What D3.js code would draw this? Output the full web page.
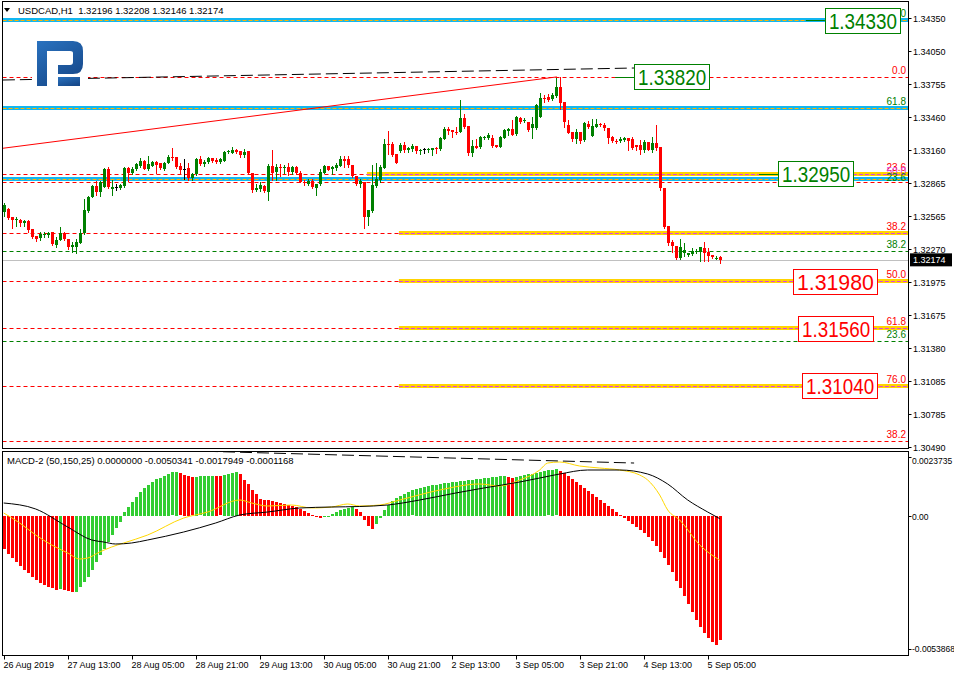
<!DOCTYPE html>
<html>
<head>
<meta charset="utf-8">
<script src="https://cdn.jsdelivr.net/npm/d3@7"></script>
<style>
  body { margin: 0; background: #fff; }
  text { font-family: "Liberation Sans", Arial, sans-serif; }
</style>
</head>
<body>
<div id="chart"></div>
<script>
// USDCAD H1 candles, 26 Aug - 5 Sep 2019
var opens = [
  1.32604,1.32631,1.32559,1.32532,1.32532,1.32505,1.32523,1.32451,1.32388,1.32370,
  1.32397,1.32397,1.32424,1.32307,1.32352,1.32415,1.32361,1.32289,1.32289,1.32325,
  1.32415,1.32613,1.32739,1.32838,1.32784,1.32829,1.32991,1.32811,1.32829,1.32820,
  1.32838,1.33000,1.32955,1.32991,1.33018,1.33063,1.32991,1.33018,1.33054,1.33045,
  1.32991,1.33045,1.33099,1.33099,1.33018,1.32991,1.33000,1.32910,1.32946,1.33081,
  1.33036,1.33054,1.33090,1.33072,1.33054,1.33063,1.33144,1.33135,1.33162,1.33153,
  1.33117,1.33153,1.32955,1.32802,1.32811,1.32838,1.32784,1.33018,1.32964,1.33009,
  1.33000,1.33009,1.32964,1.33009,1.32955,1.32874,1.32856,1.32883,1.32820,1.32856,
  1.32955,1.33018,1.32991,1.33000,1.33018,1.33081,1.33081,1.33027,1.32928,1.32856,
  1.32874,1.32559,1.32613,1.32838,1.32892,1.33000,1.33216,1.33216,1.33126,1.33153,
  1.33207,1.33162,1.33171,1.33198,1.33153,1.33171,1.33162,1.33162,1.33180,1.33171,
  1.33261,1.33351,1.33342,1.33324,1.33324,1.33450,1.33378,1.33135,1.33198,1.33189,
  1.33270,1.33270,1.33270,1.33207,1.33189,1.33270,1.33333,1.33351,1.33306,1.33450,
  1.33423,1.33414,1.33360,1.33360,1.33459,1.33630,1.33639,1.33621,1.33648,1.33729,
  1.33594,1.33387,1.33324,1.33261,1.33324,1.33252,1.33396,1.33288,1.33369,1.33396,
  1.33387,1.33360,1.33279,1.33243,1.33243,1.33252,1.33270,1.33261,1.33207,1.33207,
  1.33162,1.33234,1.33162,1.33225,1.33189,1.32820,1.32478,1.32334,1.32298,1.32190,
  1.32235,1.32217,1.32226,1.32244,1.32244,1.32280,1.32244,1.32217,1.32185,1.32196
];
var highs = [
  1.32685,1.32640,1.32559,1.32559,1.32541,1.32532,1.32532,1.32451,1.32388,1.32424,
  1.32424,1.32424,1.32424,1.32379,1.32469,1.32424,1.32361,1.32334,1.32361,1.32451,
  1.32721,1.32748,1.32847,1.32883,1.32883,1.33000,1.33009,1.32892,1.32856,1.32856,
  1.33009,1.33009,1.33009,1.33045,1.33090,1.33072,1.33108,1.33063,1.33063,1.33045,
  1.33054,1.33117,1.33180,1.33099,1.33045,1.33081,1.33045,1.32955,1.33090,1.33108,
  1.33072,1.33099,1.33090,1.33090,1.33090,1.33153,1.33162,1.33189,1.33171,1.33153,
  1.33171,1.33153,1.32955,1.32856,1.32874,1.32847,1.33036,1.33162,1.33036,1.33036,
  1.33027,1.33045,1.33018,1.33018,1.32973,1.32892,1.32901,1.32901,1.32856,1.32991,
  1.33027,1.33018,1.33018,1.33045,1.33108,1.33108,1.33108,1.33027,1.32928,1.32901,
  1.32874,1.32622,1.33027,1.33045,1.33027,1.33261,1.33333,1.33234,1.33126,1.33225,
  1.33234,1.33189,1.33216,1.33198,1.33171,1.33180,1.33180,1.33180,1.33189,1.33279,
  1.33369,1.33369,1.33342,1.33369,1.33612,1.33486,1.33378,1.33252,1.33261,1.33288,
  1.33288,1.33315,1.33297,1.33207,1.33288,1.33351,1.33360,1.33432,1.33468,1.33459,
  1.33450,1.33414,1.33459,1.33576,1.33675,1.33657,1.33666,1.33675,1.33810,1.33819,
  1.33594,1.33432,1.33324,1.33351,1.33324,1.33414,1.33423,1.33441,1.33441,1.33405,
  1.33405,1.33360,1.33288,1.33261,1.33279,1.33279,1.33270,1.33279,1.33207,1.33252,
  1.33252,1.33234,1.33279,1.33387,1.33189,1.32820,1.32478,1.32352,1.32298,1.32361,
  1.32325,1.32235,1.32280,1.32271,1.32289,1.32334,1.32280,1.32217,1.32208,1.32208
];
var lows = [
  1.32568,1.32541,1.32460,1.32478,1.32478,1.32478,1.32424,1.32370,1.32343,1.32352,
  1.32379,1.32379,1.32307,1.32289,1.32352,1.32352,1.32271,1.32244,1.32235,1.32325,
  1.32406,1.32604,1.32739,1.32757,1.32748,1.32829,1.32820,1.32757,1.32802,1.32811,
  1.32829,1.32883,1.32946,1.32982,1.33009,1.32991,1.32982,1.33018,1.32955,1.32991,
  1.32982,1.33045,1.33072,1.33000,1.32955,1.32901,1.32892,1.32892,1.32937,1.33027,
  1.33018,1.33045,1.33054,1.33045,1.33045,1.33063,1.33135,1.33135,1.33135,1.33099,
  1.33099,1.32946,1.32784,1.32793,1.32793,1.32784,1.32712,1.32892,1.32892,1.32928,
  1.32955,1.32937,1.32946,1.32946,1.32874,1.32847,1.32847,1.32820,1.32757,1.32847,
  1.32955,1.32982,1.32946,1.32982,1.33018,1.33009,1.33009,1.32919,1.32847,1.32829,
  1.32460,1.32487,1.32604,1.32829,1.32874,1.33000,1.33126,1.33108,1.33045,1.33144,
  1.33144,1.33144,1.33153,1.33135,1.33126,1.33135,1.33144,1.33117,1.33135,1.33162,
  1.33261,1.33306,1.33279,1.33306,1.33324,1.33360,1.33117,1.33108,1.33180,1.33180,
  1.33261,1.33261,1.33189,1.33189,1.33189,1.33270,1.33297,1.33297,1.33297,1.33405,
  1.33414,1.33333,1.33270,1.33351,1.33459,1.33594,1.33603,1.33612,1.33639,1.33531,
  1.33369,1.33315,1.33243,1.33225,1.33225,1.33243,1.33360,1.33288,1.33369,1.33378,
  1.33342,1.33225,1.33234,1.33225,1.33234,1.33243,1.33162,1.33171,1.33162,1.33126,
  1.33144,1.33162,1.33144,1.33162,1.32802,1.32460,1.32307,1.32244,1.32181,1.32181,
  1.32208,1.32208,1.32217,1.32235,1.32163,1.32163,1.32163,1.32190,1.32181,1.32146
];
var closes = [
  1.32667,1.32550,1.32532,1.32541,1.32505,1.32523,1.32442,1.32379,1.32361,1.32406,
  1.32406,1.32415,1.32316,1.32352,1.32415,1.32361,1.32289,1.32307,1.32334,1.32415,
  1.32622,1.32739,1.32838,1.32784,1.32874,1.32991,1.32829,1.32829,1.32829,1.32847,
  1.33000,1.32955,1.32991,1.33036,1.33063,1.32991,1.33036,1.33054,1.33027,1.33000,
  1.33045,1.33099,1.33090,1.33009,1.32982,1.32991,1.32910,1.32946,1.33081,1.33036,
  1.33054,1.33090,1.33063,1.33054,1.33081,1.33144,1.33153,1.33162,1.33144,1.33117,
  1.33144,1.32955,1.32802,1.32820,1.32847,1.32793,1.33018,1.32955,1.33009,1.33000,
  1.33009,1.32964,1.33009,1.32955,1.32874,1.32865,1.32883,1.32829,1.32856,1.32964,
  1.33018,1.32982,1.33009,1.33027,1.33081,1.33063,1.33027,1.32928,1.32856,1.32883,
  1.32559,1.32622,1.32847,1.32901,1.33009,1.33216,1.33207,1.33117,1.33045,1.33207,
  1.33162,1.33180,1.33198,1.33153,1.33162,1.33171,1.33171,1.33180,1.33171,1.33270,
  1.33351,1.33333,1.33324,1.33315,1.33450,1.33369,1.33135,1.33198,1.33180,1.33279,
  1.33279,1.33297,1.33198,1.33189,1.33279,1.33342,1.33351,1.33297,1.33459,1.33414,
  1.33432,1.33342,1.33396,1.33567,1.33630,1.33621,1.33612,1.33657,1.33729,1.33585,
  1.33414,1.33315,1.33261,1.33324,1.33243,1.33405,1.33369,1.33378,1.33396,1.33387,
  1.33360,1.33270,1.33243,1.33234,1.33261,1.33270,1.33243,1.33180,1.33189,1.33162,
  1.33234,1.33162,1.33225,1.33180,1.32820,1.32469,1.32325,1.32298,1.32190,1.32289,
  1.32262,1.32235,1.32253,1.32253,1.32289,1.32235,1.32208,1.32199,1.32190,1.32174
];

// MACD-2 histogram per bar
var histValues = [
  -0.00135,-0.00155,-0.00171,-0.00187,-0.00203,-0.00219,-0.00231,-0.00248,-0.00260,-0.00272,
  -0.00280,-0.00288,-0.00292,-0.00298,-0.00296,-0.00300,-0.00304,-0.00308,-0.00306,-0.00287,
  -0.00268,-0.00248,-0.00219,-0.00187,-0.00159,-0.00135,-0.00106,-0.00078,-0.00050,-0.00025,
  0.00015,0.00035,0.00055,0.00076,0.00096,0.00112,0.00124,0.00136,0.00148,0.00152,
  0.00160,0.00168,0.00175,0.00177,0.00171,0.00164,0.00160,0.00155,0.00158,0.00159,
  0.00160,0.00161,0.00162,0.00160,0.00159,0.00165,0.00170,0.00174,0.00176,0.00169,
  0.00144,0.00128,0.00104,0.00088,0.00067,0.00065,0.00064,0.00059,0.00055,0.00051,
  0.00047,0.00043,0.00039,0.00035,0.00027,0.00019,0.00011,0.00003,-0.00005,-0.00007,
  -0.00005,-0.00001,0.00007,0.00015,0.00023,0.00027,0.00031,0.00035,0.00027,0.00015,
  -0.00017,-0.00042,-0.00054,-0.00034,-0.00009,0.00023,0.00043,0.00059,0.00072,0.00080,
  0.00088,0.00096,0.00102,0.00108,0.00112,0.00116,0.00120,0.00124,0.00126,0.00128,
  0.00132,0.00134,0.00136,0.00138,0.00140,0.00142,0.00144,0.00146,0.00148,0.00150,
  0.00152,0.00154,0.00156,0.00158,0.00160,0.00162,0.00156,0.00152,0.00157,0.00161,
  0.00165,0.00168,0.00169,0.00172,0.00177,0.00181,0.00183,0.00185,0.00187,0.00181,
  0.00173,0.00160,0.00148,0.00136,0.00124,0.00112,0.00100,0.00088,0.00076,0.00063,
  0.00051,0.00039,0.00027,0.00015,0.00003,-0.00009,-0.00021,-0.00034,-0.00046,-0.00058,
  -0.00070,-0.00086,-0.00102,-0.00122,-0.00147,-0.00171,-0.00199,-0.00228,-0.00261,-0.00293,
  -0.00325,-0.00357,-0.00390,-0.00422,-0.00450,-0.00474,-0.00495,-0.00511,-0.00523,-0.00503
];
// colour runs of the histogram: [colour, number of bars]
var histColorRuns = [["r",14],["g",1],["r",3],["g",26],["r",4],["g",5],["r",2],["g",4],
  ["r",21],["g",8],["r",5],["g",33],["r",2],["g",11],["r",41]];

// MACD lines, read at [bar, value]
var macdBlack = [[0,0.000514],[8,0.000272],[16,-0.000456],[22,-0.000981],[25,-0.001062],[28,-0.001143],
  [32,-0.001102],[36,-0.000981],[45,-0.000658],[53,-0.000294],[59,0.000029],[66,0.000150],[74,0.000312],
  [82,0.000352],[89,0.000373],[96,0.000433],[104,0.000635],[113,0.000918],[120,0.001120],[129,0.001363],
  [134,0.001524],[139,0.001686],[146,0.001848],[154,0.001848],[161,0.001686],[166,0.001282],[171,0.000635],
  [176,0.000150],[179,-0.0001168]];
var macdYellow = [[0,0.000110],[4,-0.000294],[8,-0.000779],[12,-0.001183],[16,-0.001506],[19,-0.001749],
  [21,-0.001709],[24,-0.001466],[27,-0.001264],[30,-0.001102],[36,-0.000779],[45,-0.000092],[51,0.000150],
  [59,0.000635],[62,0.000514],[66,0.000393],[72,0.000433],[77,0.000312],[82,0.000352],[86,0.000474],
  [89,0.000393],[94,0.000433],[99,0.000635],[109,0.001039],[119,0.001282],[124,0.001201],[129,0.001443],
  [134,0.001848],[136,0.002130],[139,0.002171],[144,0.002009],[149,0.001928],[154,0.001848],[159,0.001646],
  [161,0.001443],[164,0.000837],[166,0.000231],[169,-0.000173],[174,-0.001183],[179,-0.0017949]];

// horizontal levels
var fibPrices = [1.33820, 1.32950, 1.32414, 1.31980, 1.31560, 1.31040];
var fibLabels = ["0.0", "23.6", "38.2", "50.0", "61.8", "76.0"];
var fibBandStart = [null, 90.8, 98.8, 98.8, 98.8, 98.8];
var blueBands = [1.34330, 1.33543, 1.32900];
var blueLabels = ["100.0", "61.8", "23.6"];
var redDashed = [1.32878, 1.30543];
var redDashedLabels = ["", "38.2"];
var greenDashed = [1.32253, 1.31443];
var greenDashedLabels = ["38.2", "23.6"];
var boxPrices = [1.34330, 1.33820, 1.32950, 1.31980, 1.31560, 1.31040];
var boxBars = [205.3, 157.6, 193.6, 197.3, 198.6, 199.6];
var lastPrice = 1.32174;

// trend lines [bar, value]
var redTrend = [[-0.4, 1.33177], [138.3, 1.33820]];
var blackTrend = [[-0.2, 1.33792], [157.6, 1.33900]];
var macdTrend = [[-0.4, 0.00283], [157.6, 0.00213]];

var priceTicks = [1.34350,1.34050,1.33755,1.33460,1.33160,1.32865,1.32565,1.32270,1.31975,1.31675,1.31380,1.31085,1.30785,1.30490];
var macdTicks = [0.0023735, 0, -0.0053868];
var macdTickLabels = ["0.0023735", "0.00", "-0.0053868"];
var timeTicks = [0,16,32,48,64,80,96,112,128,144,160,176];
var timeLabels = ["26 Aug 2019","27 Aug 13:00","28 Aug 05:00","28 Aug 21:00","29 Aug 13:00","30 Aug 05:00",
  "30 Aug 21:00","2 Sep 13:00","3 Sep 05:00","3 Sep 21:00","4 Sep 13:00","5 Sep 05:00"];

var width = 954, height = 676,
    left = 2.5, right = 908.5,
    mainTop = 1.5, mainBottom = 448.5,
    macdTop = 451.5, macdBottom = 655.5;

var svg = d3.select("#chart").append("svg")
    .attr("width", width).attr("height", height)
    .style("background", "#fff");

var x = d3.scaleLinear().domain([0, 179]).range([3.7, 719.7]);
var y = d3.scaleLinear().domain([1.30490, 1.34350]).range([447, 18]);
var ym = d3.scaleLinear().domain([-0.0053868, 0.0023735]).range([649, 457]);

var defs = svg.append("defs");
defs.append("clipPath").attr("id", "mainClip").append("rect")
    .attr("x", left).attr("y", mainTop).attr("width", right - left).attr("height", mainBottom - mainTop);
defs.append("clipPath").attr("id", "macdClip").append("rect")
    .attr("x", left).attr("y", macdTop).attr("width", right - left).attr("height", macdBottom - macdTop);
var grad = defs.append("linearGradient").attr("id", "logoGrad")
    .attr("x1", 0).attr("y1", 0).attr("x2", 0.6).attr("y2", 1);
grad.append("stop").attr("offset", "0%").attr("stop-color", "#2a72bf");
grad.append("stop").attr("offset", "100%").attr("stop-color", "#174a8c");

var main = svg.append("g").attr("clip-path", "url(#mainClip)");
var macd = svg.append("g").attr("clip-path", "url(#macdClip)");

// ---- horizontal levels ----
function hLine(g, v, color, dash, x0) {
  g.append("line")
    .attr("x1", x0 === undefined ? left : x(x0)).attr("x2", right)
    .attr("y1", Math.round(y(v)) + 0.5).attr("y2", Math.round(y(v)) + 0.5)
    .attr("stroke", color).attr("stroke-width", 1)
    .attr("stroke-dasharray", dash);
}
function band(g, v, fill, dashColor, x0) {
  var yy = Math.round(y(v));
  g.append("rect")
    .attr("x", x0 === undefined ? left : x(x0)).attr("y", yy - 2)
    .attr("width", right - (x0 === undefined ? left : x(x0))).attr("height", 4)
    .attr("fill", fill);
  hLine(g, v, dashColor, "4,2", x0);
}

fibPrices.forEach(function(p) { hLine(main, p, "#ff0000", "4,3"); });
redDashed.forEach(function(p) { hLine(main, p, "#ff0000", "4,3"); });
greenDashed.forEach(function(p) { hLine(main, p, "#008000", "4,3"); });
blueBands.forEach(function(p) { band(main, p, "#12b6f0", "#ffb400"); });
fibPrices.forEach(function(p, i) {
  if (fibBandStart[i] !== null) band(main, p, "#ffd400", "#e040e0", fibBandStart[i]);
});

// current price line
main.append("line")
  .attr("x1", left).attr("x2", right)
  .attr("y1", Math.round(y(lastPrice)) + 0.5).attr("y2", Math.round(y(lastPrice)) + 0.5)
  .attr("stroke", "#c0c0c0");

// trend lines
var line = d3.line().x(function(d) { return x(d[0]); }).y(function(d) { return y(d[1]); });
main.append("path").datum(redTrend).attr("d", line)
  .attr("fill", "none").attr("stroke", "#ff0000").attr("stroke-width", 1);
main.append("path").datum(blackTrend).attr("d", line)
  .attr("fill", "none").attr("stroke", "#000").attr("stroke-width", 1).attr("stroke-dasharray", "12,5");

// logo
var logo = main.append("g");
logo.append("rect").attr("x", 32).attr("y", 36).attr("width", 56).attr("height", 54).attr("fill", "#fff");
logo.append("path")
  .attr("d", "M37,41 H73 Q83,41 83,51 V64 Q83,74 73,74 H58 V65 H70 Q73,65 73,62 V53 Q73,51 70,51 H47 V86 H37 Z")
  .attr("fill", "url(#logoGrad)");
logo.append("rect").attr("x", 58).attr("y", 77).attr("width", 22).attr("height", 9).attr("fill", "url(#logoGrad)");

// ---- candles ----
var candles = d3.range(opens.length).map(function(i) {
  return { i: i, o: opens[i], h: highs[i], l: lows[i], c: closes[i] };
});
function candleColor(d) {
  if (d.c > d.o) return "#008000";
  if (d.c < d.o) return "#ff0000";
  return "#000";
}
var cg = main.append("g").selectAll("g").data(candles).enter().append("g");
cg.append("line")
  .attr("x1", function(d) { return Math.round(x(d.i)) + 0.5; })
  .attr("x2", function(d) { return Math.round(x(d.i)) + 0.5; })
  .attr("y1", function(d) { return Math.round(y(d.h)); })
  .attr("y2", function(d) { return Math.round(y(d.l)) + 1; })
  .attr("stroke", candleColor);
cg.append("rect")
  .attr("x", function(d) { return Math.round(x(d.i)) - 1; })
  .attr("width", 3)
  .attr("y", function(d) { return Math.round(y(Math.max(d.o, d.c))); })
  .attr("height", function(d) { return Math.max(1, Math.round(y(Math.min(d.o, d.c))) - Math.round(y(Math.max(d.o, d.c)))); })
  .attr("fill", candleColor);

// ---- level labels ----
function levelLabel(v, txt, color, dy) {
  main.append("text")
    .attr("x", 906).attr("y", y(v) + dy)
    .attr("text-anchor", "end").attr("font-size", "10px")
    .attr("fill", color).text(txt);
}
fibLabels.forEach(function(t, i) { levelLabel(fibPrices[i], t, "#ff0000", -3); });
levelLabel(fibPrices[1], "50.0", "#e040e0", 1);
blueLabels.forEach(function(t, i) { levelLabel(blueBands[i], t, "#008000", i === 2 ? 2 : -3); });
redDashedLabels.forEach(function(t, i) { if (t) levelLabel(redDashed[i], t, "#ff0000", -3); });
greenDashedLabels.forEach(function(t, i) { levelLabel(greenDashed[i], t, "#008000", -3); });

// ---- price boxes ----
boxPrices.forEach(function(p, i) {
  var col = i < 3 ? "#008000" : "#ff0000";
  var bx = x(boxBars[i]), by = y(p);
  var bw = i === 3 ? 84 : 75;
  if (i < 3) {
    main.append("line").attr("x1", bx - 19).attr("x2", bx)
      .attr("y1", Math.round(by) + 0.5).attr("y2", Math.round(by) + 0.5).attr("stroke", col);
  }
  main.append("rect")
    .attr("x", Math.round(bx) + 0.5).attr("y", Math.round(by - 12.5) + 0.5)
    .attr("width", bw).attr("height", 25)
    .attr("fill", "#fff").attr("stroke", col);
  main.append("text")
    .attr("x", bx + 4).attr("y", by + 8.5)
    .attr("font-size", "22px").attr("fill", col)
    .attr("textLength", bw - 7).attr("lengthAdjust", "spacingAndGlyphs")
    .text(d3.format(".5f")(p));
});

// header
svg.append("path").attr("d", "M4,8 L10,8 L7,12 Z").attr("fill", "#000");
svg.append("text").attr("x", 18).attr("y", 14).attr("font-size", "9.5px")
  .style("white-space", "pre")
  .text("USDCAD,H1  " + [opens[179], highs[179], lows[179], closes[179]].map(d3.format(".5f")).join(" "));

// ---- MACD pane ----
var histColors = [];
histColorRuns.forEach(function(r) { for (var k = 0; k < r[1]; k++) histColors.push(r[0]); });
macd.selectAll("rect.h").data(histValues).enter().append("rect")
  .attr("class", "h")
  .attr("x", function(d, i) { return Math.round(x(i)) - 1; })
  .attr("width", 3)
  .attr("y", function(d) { return Math.round(Math.min(ym(d), ym(0))); })
  .attr("height", function(d) { return Math.max(1, Math.round(Math.abs(ym(d) - ym(0)))); })
  .attr("fill", function(d, i) { return histColors[i] === "g" ? "#32cd32" : "#ff0000"; });

var mline = d3.line().x(function(d) { return x(d[0]); }).y(function(d) { return ym(d[1]); })
  .curve(d3.curveMonotoneX);
macd.append("path").datum(macdYellow).attr("d", mline)
  .attr("fill", "none").attr("stroke", "#ffd700").attr("stroke-width", 1);
macd.append("path").datum(macdBlack).attr("d", mline)
  .attr("fill", "none").attr("stroke", "#000").attr("stroke-width", 1);
macd.append("path").datum(macdTrend)
  .attr("d", d3.line().x(function(d) { return x(d[0]); }).y(function(d) { return ym(d[1]); }))
  .attr("fill", "none").attr("stroke", "#000").attr("stroke-dasharray", "12,5");

svg.append("text").attr("x", 7).attr("y", 464).attr("font-size", "9.5px")
  .text("MACD-2 (50,150,25) 0.0000000 -0.0050341 -0.0017949 -0.0001168");

// ---- frames ----
svg.append("rect").attr("x", left).attr("y", mainTop).attr("width", right - left).attr("height", mainBottom - mainTop)
  .attr("fill", "none").attr("stroke", "#000");
svg.append("rect").attr("x", left).attr("y", macdTop).attr("width", right - left).attr("height", macdBottom - macdTop)
  .attr("fill", "none").attr("stroke", "#000");

// price axis
var pa = svg.append("g");
priceTicks.forEach(function(v) {
  var yy = Math.round(y(v)) + 0.5;
  pa.append("line").attr("x1", right).attr("x2", right + 3).attr("y1", yy).attr("y2", yy).attr("stroke", "#000");
  pa.append("text").attr("x", 913).attr("y", yy + 3.5).attr("font-size", "9px").text(d3.format(".5f")(v));
});
pa.append("rect").attr("x", 910).attr("y", y(lastPrice) - 6.5).attr("width", 42).attr("height", 13).attr("fill", "#000");
pa.append("text").attr("x", 913).attr("y", y(lastPrice) + 3.5).attr("font-size", "9px").attr("fill", "#fff")
  .text(d3.format(".5f")(lastPrice));

macdTicks.forEach(function(v, i) {
  var yy = Math.round(ym(v)) + 0.5;
  pa.append("line").attr("x1", right).attr("x2", right + 3).attr("y1", yy).attr("y2", yy).attr("stroke", "#000");
  pa.append("text").attr("x", 912).attr("y", Math.min(Math.max(yy, 460), 648) + 3.5)
    .attr("font-size", "8.5px").text(macdTickLabels[i]);
});

// time axis
timeTicks.forEach(function(b, i) {
  var xx = Math.round(x(b)) + 0.5;
  svg.append("line").attr("x1", xx).attr("x2", xx).attr("y1", macdBottom).attr("y2", macdBottom + 4).attr("stroke", "#000");
  svg.append("text").attr("x", xx - 1).attr("y", 668).attr("font-size", "9px").text(timeLabels[i]);
});
</script>
</body>
</html>
